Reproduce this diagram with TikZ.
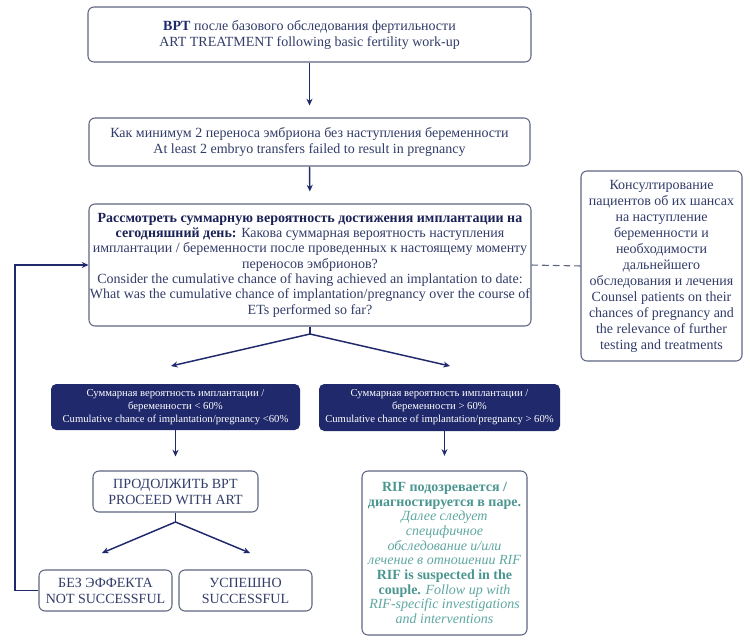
\documentclass[tikz,border=0pt]{standalone}
\usepackage{fontspec}
\setmainfont{Liberation Serif}
\usetikzlibrary{arrows.meta}
\definecolor{navy}{RGB}{31,41,107}
\definecolor{txt}{RGB}{50,60,105}
\definecolor{bord}{RGB}{95,100,130}
\definecolor{teal1}{RGB}{95,168,162}
\definecolor{teal2}{RGB}{75,150,145}
\tikzset{
  wbox/.style={draw=bord, line width=0.8pt, rounded corners=4.5pt, fill=white, align=center, text=txt, inner sep=0pt, font=\fontsize{10.5}{12}\selectfont},
  bbox/.style={fill=navy, rounded corners=4pt, align=center, text=white, inner sep=0pt, font=\fontsize{8}{9.75}\selectfont},
  arr/.style={draw=navy, line width=1.1pt, -{Stealth[length=5pt,width=4.5pt]}},
  ln/.style={draw=navy, line width=1.1pt},
}
\begin{document}
\begin{tikzpicture}[x=0.75pt,y=-0.75pt]
\fill[white] (0,0) rectangle (750,643);
\useasboundingbox (0,0) rectangle (750,643);

\node[wbox, minimum width=443*0.75pt, minimum height=55*0.75pt] (b1) at (309.5,34.5)
 {{\color{navy}\bfseries ВРТ} после базового обследования фертильности\\ART TREATMENT following basic fertility work-up};
\node[wbox, minimum width=441*0.75pt, minimum height=48*0.75pt] (b2) at (309.5,142)
 {Как минимум 2 переноса эмбриона без наступления беременности\\At least 2 embryo transfers failed to result in pregnancy};
\node[wbox, minimum width=442*0.75pt, minimum height=122*0.75pt, font=\fontsize{10.5}{11.5}\selectfont] (b3) at (310,265)
 {{\color{navy!80!black}\bfseries Рассмотреть суммарную вероятность достижения имплантации на}\\
  {\color{navy!80!black}\bfseries сегодняшний день:} Какова суммарная вероятность наступления\\
  имплантации / беременности после проведенных к настоящему моменту\\
  переносов эмбрионов?\\
  Consider the cumulative chance of having achieved an implantation to date:\\
  What was the cumulative chance of implantation/pregnancy over the course of\\
  ETs performed so far?};
\node[wbox, minimum width=161*0.75pt, minimum height=190*0.75pt] (cn) at (661.5,266)
 {Консултирование\\пациентов об их шансах\\на наступление\\беременности и\\необходимости\\дальнейшего\\обследования и лечения\\Counsel patients on their\\chances of pregnancy and\\the relevance of further\\testing and treatments};

\node[bbox, minimum width=249*0.75pt, minimum height=46*0.75pt] (bl) at (175.5,407)
 {Суммарная вероятность имплантации /\\беременности < 60\%\\Cumulative chance of implantation/pregnancy <60\%};
\node[bbox, minimum width=241*0.75pt, minimum height=47*0.75pt] (br) at (439.5,407.5)
 {Суммарная вероятность имплантации /\\беременности > 60\%\\Cumulative chance of implantation/pregnancy > 60\%};

\node[wbox, minimum width=165*0.75pt, minimum height=41*0.75pt] (pr) at (175.5,491.5)
 {ПРОДОЛЖИТЬ ВРТ\\PROCEED WITH ART};
\node[wbox, minimum width=133*0.75pt, minimum height=41*0.75pt] (fl) at (105.5,590.5)
 {БЕЗ ЭФФЕКТА\\NOT SUCCESSFUL};
\node[wbox, minimum width=133*0.75pt, minimum height=41*0.75pt] (sc) at (245.5,590.5)
 {УСПЕШНО\\SUCCESSFUL};
\node[wbox, minimum width=165*0.75pt, minimum height=164*0.75pt, text=teal1, font=\fontsize{10.5}{11}\selectfont] (rif) at (444.5,553)
 {{\color{teal2}\bfseries RIF подозревается /}\\
  {\color{teal2}\bfseries диагностируется в паре.}\\
  \itshape Далее следует\\
  \itshape специфичное\\
  \itshape обследование и/или\\
  \itshape лечение в отношении RIF\\
  {\color{teal2}\bfseries RIF is suspected in the}\\
  {\color{teal2}\bfseries couple.} \itshape Follow up with\\
  \itshape RIF-specific investigations\\
  \itshape and interventions};

% connectors
\draw[arr, shorten >=9pt] (b1.south) -- (b2.north);
\draw[arr, shorten >=9pt] (b2.south) -- (b3.north);
\draw[dashed, draw=bord, line width=0.8pt, dash pattern=on 5pt off 3pt] (b3.east) -- (cn.west);

\coordinate (s3) at (310,334);
\coordinate (t3l) at (171,366);
\coordinate (t3r) at (450,366);
\draw[ln] (b3.south) -- (s3);
\draw[arr] (s3) -- (t3l);
\draw[arr] (s3) -- (t3r);

\draw[arr, shorten >=10.5pt] (bl.south) -- (pr.north);
\draw[arr, shorten >=11pt] (br.south -| rif.north) -- (rif.north);

\coordinate (sp) at (175.5,522);
\coordinate (tpl) at (102,553);
\coordinate (tpr) at (250,553);
\draw[ln] (pr.south) -- (sp);
\draw[arr] (sp) -- (tpl);
\draw[arr] (sp) -- (tpr);

\coordinate (lx) at (15,0);
\draw[arr] (fl.west) -- (fl.west -| lx) |- (b3.west);
\end{tikzpicture}
\end{document}
